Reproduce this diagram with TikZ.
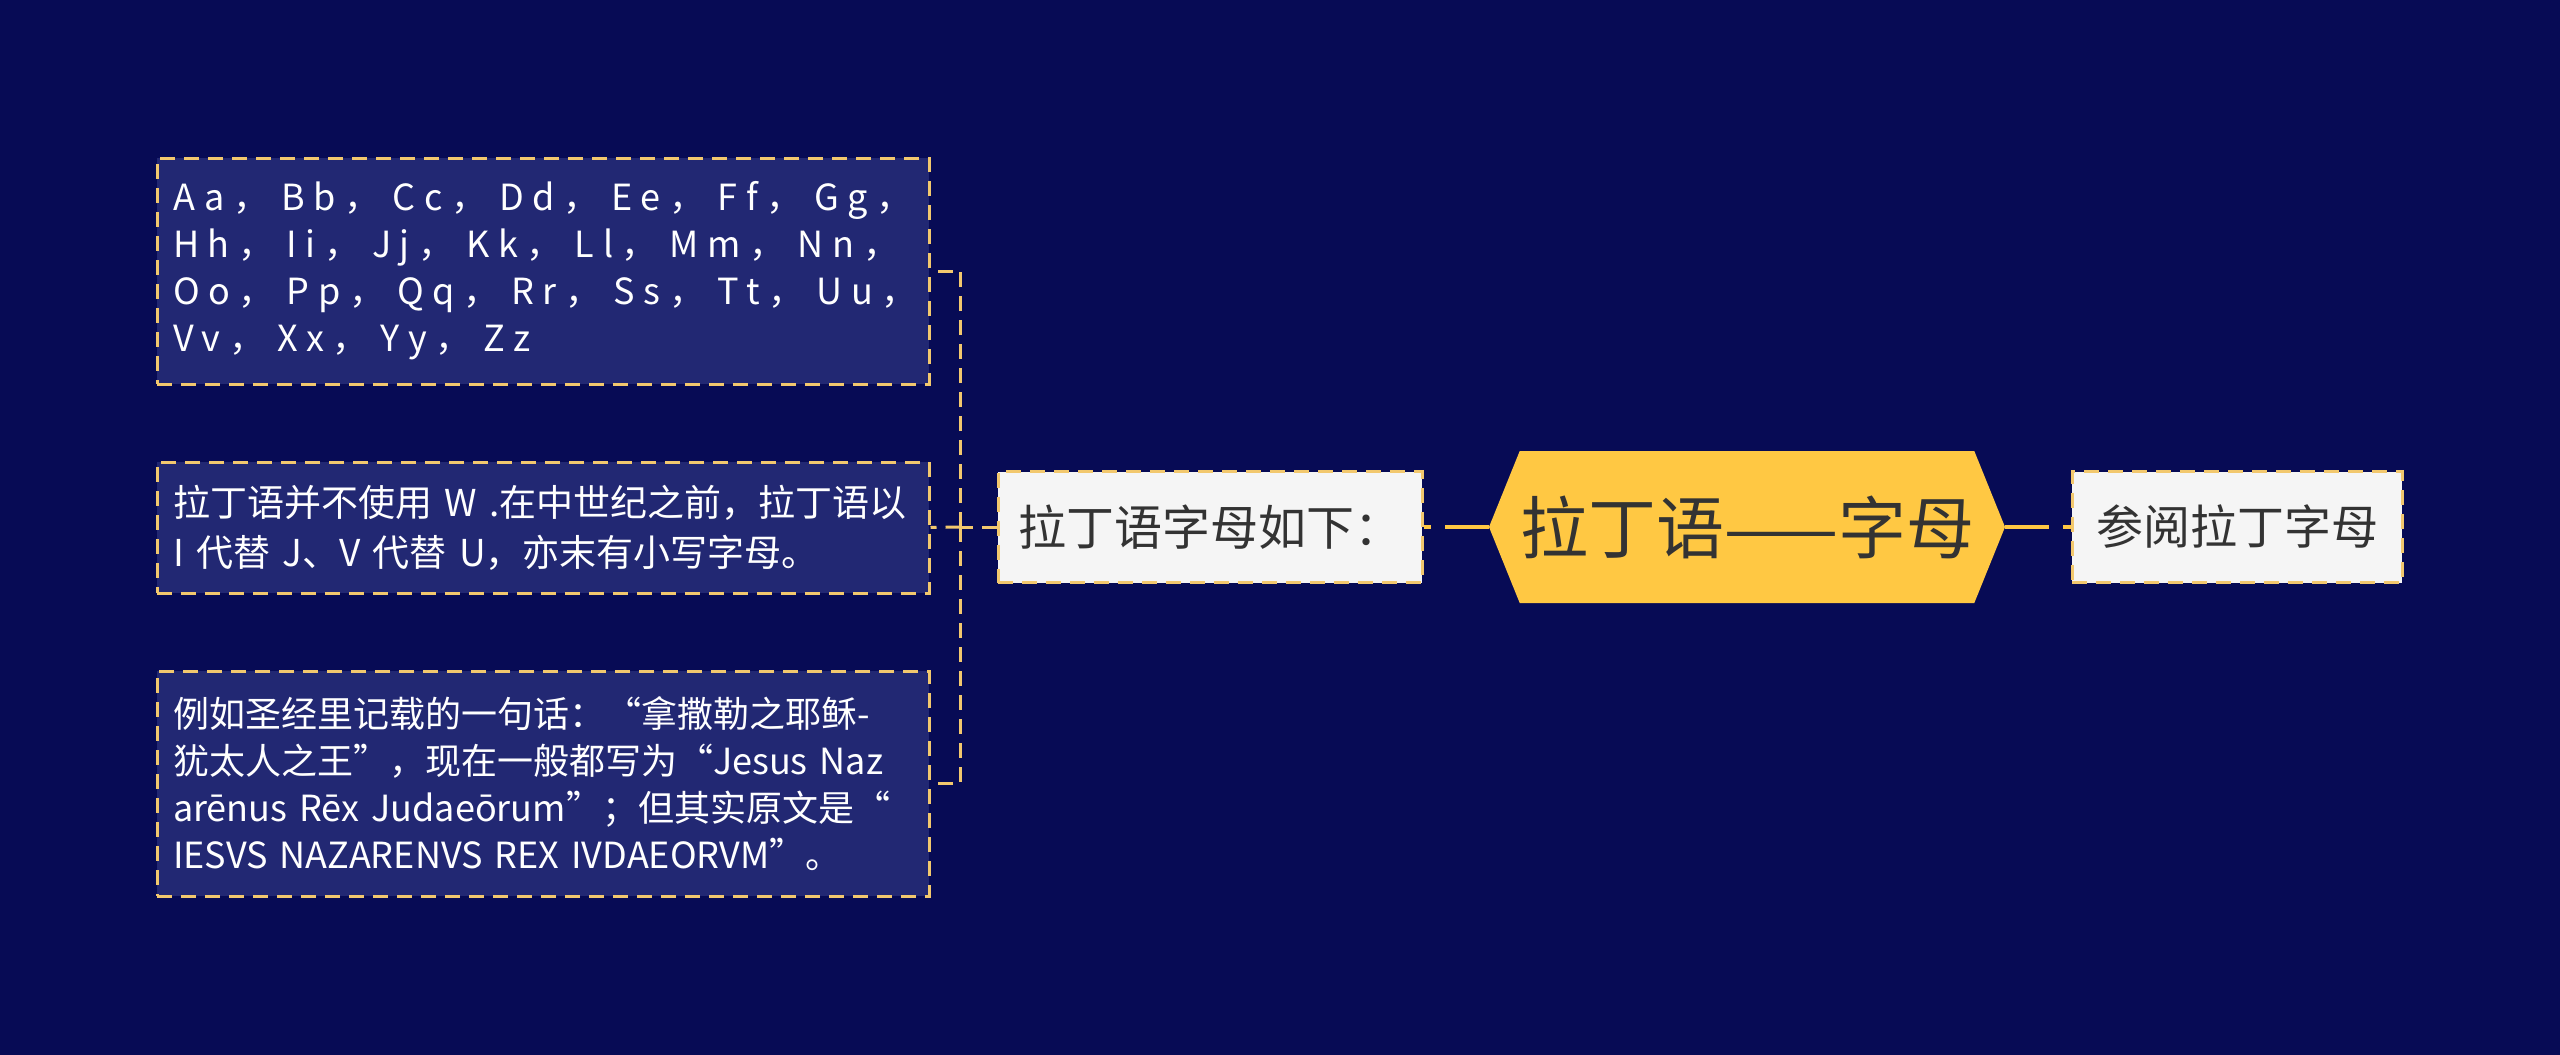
\documentclass[tikz,border=0pt]{standalone}
\usepackage{fontspec}
\setmainfont{Noto Sans CJK SC}
\newfontfamily\spaced[LetterSpace=24]{Noto Sans CJK SC}
\usetikzlibrary{shapes.symbols}
\definecolor{bg}{HTML}{070B55}
\definecolor{boxfill}{HTML}{222873}
\definecolor{gold}{HTML}{FFC843}
\definecolor{dashgold}{HTML}{F2C86E}
\definecolor{lightfill}{HTML}{F5F5F5}
\definecolor{darktext}{HTML}{333333}
\tikzset{
  leafbox/.style={draw=dashgold, line width=3pt, dash pattern=on 15pt off 9pt,
    fill=boxfill, text=white, align=left, text width=740pt, inner xsep=16pt,
    inner ysep=0pt, anchor=center},
  subbox/.style={draw=dashgold, line width=3pt, dash pattern=on 15pt off 9pt,
    fill=lightfill, text=darktext, inner sep=0pt},
  conn/.style={draw=dashgold, line width=3pt, dash pattern=on 15pt off 9pt},
  mainconn/.style={draw=gold, line width=4pt, dash pattern=on 44pt off 14pt},
  hexa/.style={shape=signal, signal to=west and east, signal pointer angle=136,
    fill=gold, text=darktext, inner sep=0pt, minimum width=516pt, minimum height=152pt,
    font=\fontsize{68pt}{76pt}\selectfont}
}
\begin{document}
\begin{tikzpicture}[x=1pt,y=-1pt]
\useasboundingbox (0,0) rectangle (2560,1055);
\fill[bg] (0,0) rectangle (2560,1055);

\node[hexa] (root) at (1747,527) {拉丁语——字母};
\node[subbox, minimum width=424pt, minimum height=111pt, font=\fontsize{48pt}{56pt}\selectfont] (sub) at (1210,527) {拉丁语字母如下：};
\node[subbox, minimum width=330pt, minimum height=111pt, font=\fontsize{47pt}{56pt}\selectfont] (ref) at (2237,527) {参阅拉丁字母};

\node[leafbox, minimum height=226pt, font=\fontsize{36pt}{47pt}\selectfont] (b1) at (543,271)
  {{\spaced Aa， Bb， Cc， Dd， Ee， Ff， Gg，\\ Hh， Ii， Jj， Kk， Ll， Mm， Nn，\\Oo， Pp， Qq， Rr， Ss， Tt， Uu，\\ Vv， Xx， Yy， Zz}};
\node[leafbox, minimum height=131pt, font=\fontsize{37pt}{50pt}\selectfont] (b2) at (543,527.5)
  {拉丁语并不使用 W .在中世纪之前，拉丁语以\\I 代替 J、V 代替 U，亦末有小写字母。};
\node[leafbox, minimum height=225pt, font=\fontsize{36pt}{47pt}\selectfont] (b3) at (543,783.5)
  {例如圣经里记载的一句话：“拿撒勒之耶稣-\\犹太人之王”，现在一般都写为“Jesus Naz\\arēnus Rēx Judaeōrum”；但其实原文是“\\IESVS NAZARENVS REX IVDAEORVM”。};

\draw[mainconn] (root.west) -- (sub.east);
\draw[mainconn] (root.east) -- (ref.west);
\draw[conn] (sub.west) -- ++(-36,0) coordinate (j);
\draw[conn] (j) |- (b1.east);
\draw[conn] (j) |- (b3.east);
\draw[conn] (j) -- (b2.east);
\end{tikzpicture}
\end{document}
